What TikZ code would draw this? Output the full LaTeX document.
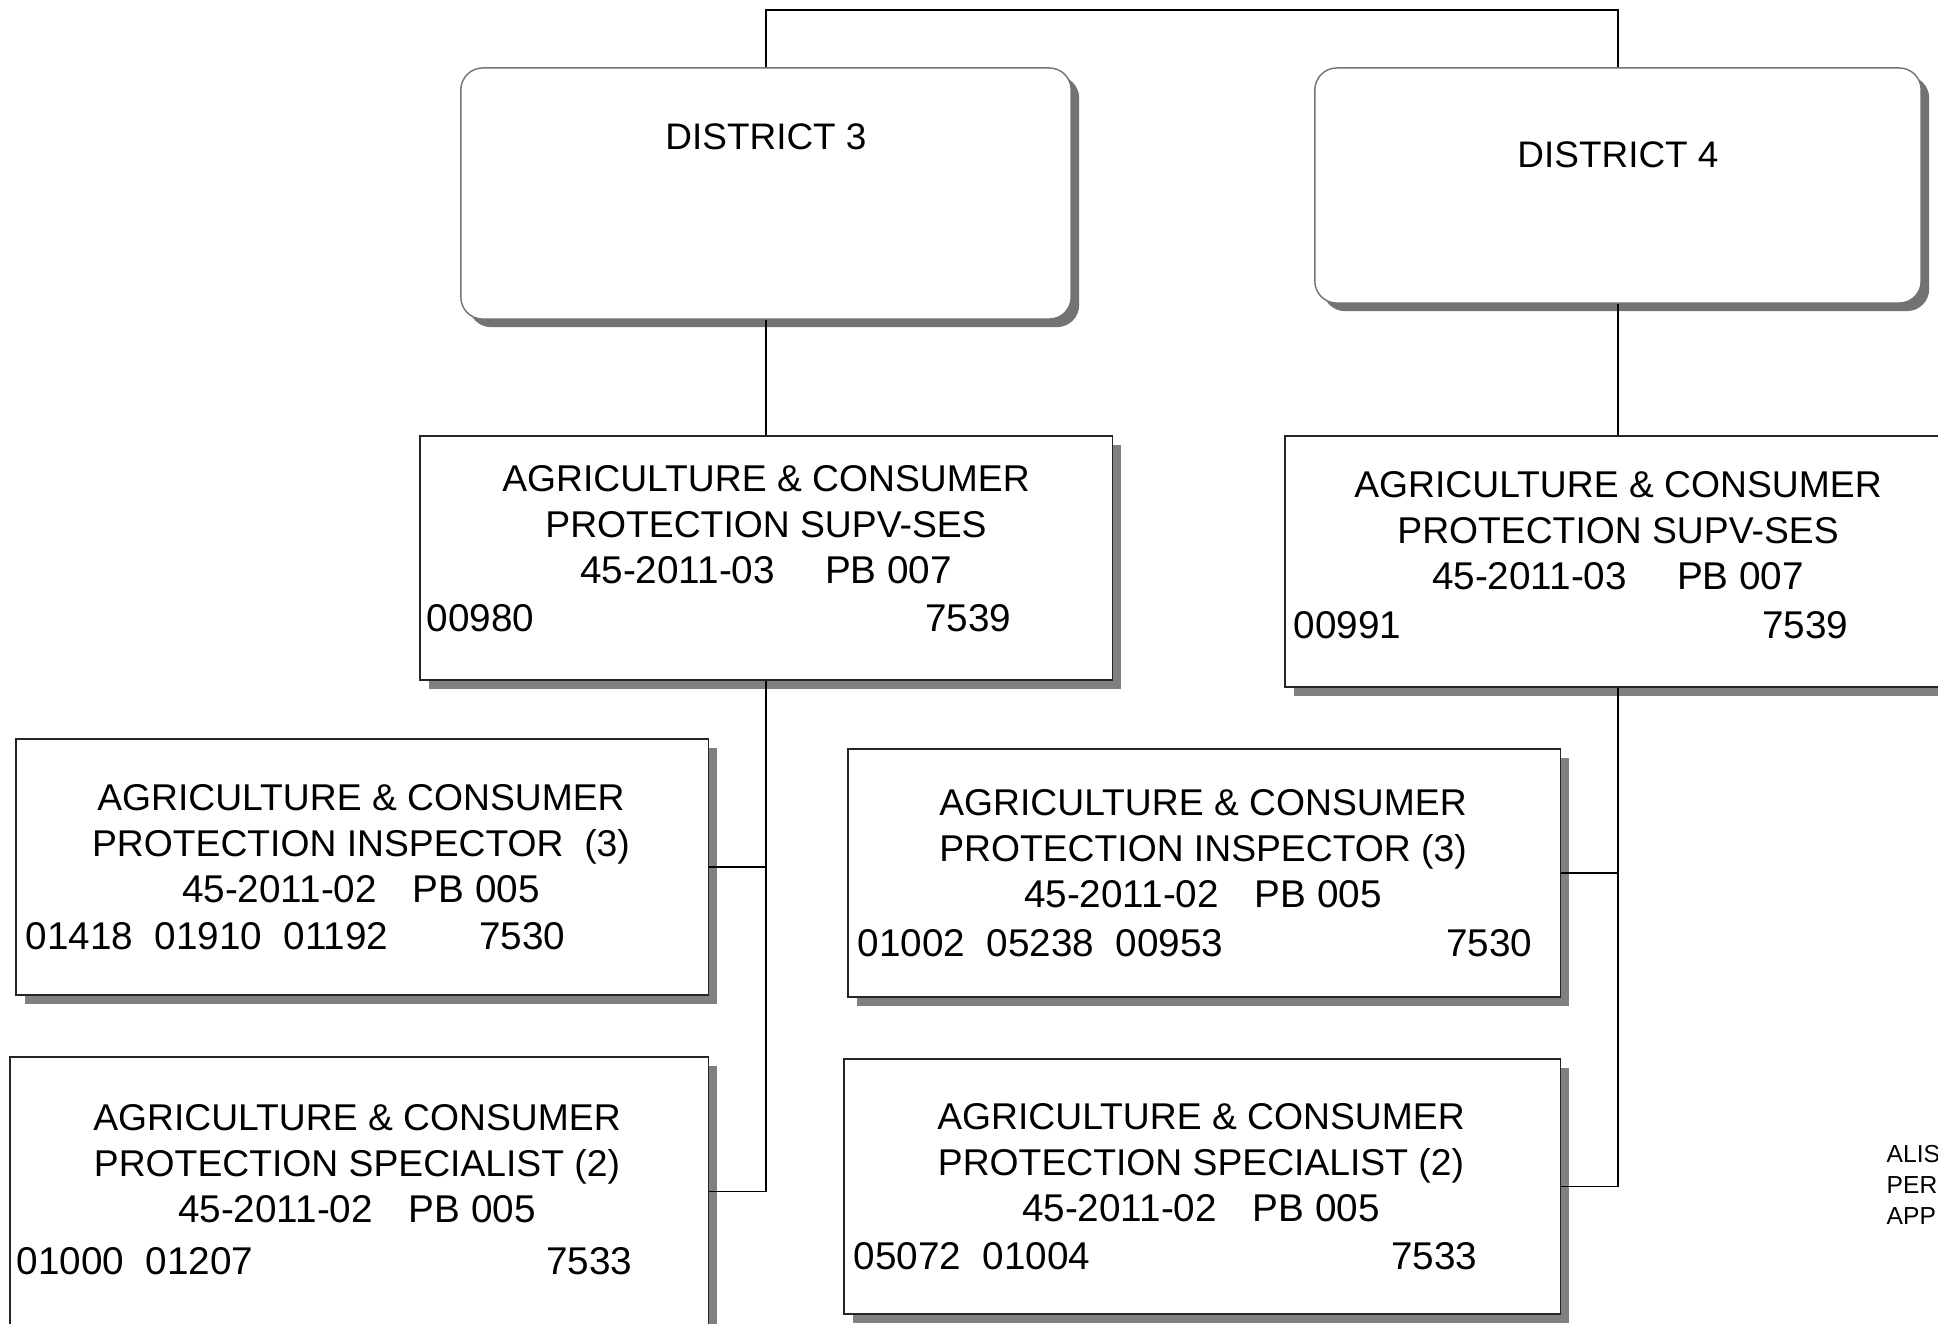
\documentclass[tikz,border=0pt]{standalone}
\usepackage{fontspec}
\setmainfont{Liberation Sans}
\usetikzlibrary{shadows}

\newcommand{\gradefont}{\fontsize{11pt}{13.1pt}\selectfont}

\begin{document}
\begin{tikzpicture}[
    x=0.01cm, y=-0.01cm,
    district/.style={rectangle, draw=black!55, fill=white, rounded corners=0.22cm, line width=0.4pt,
        drop shadow={shadow xshift=0.08cm, shadow yshift=-0.08cm, fill=black!55, opacity=1}},
    jobbox/.style={rectangle, draw=black!85, fill=white, line width=0.4pt,
        drop shadow={shadow xshift=0.09cm, shadow yshift=-0.09cm, fill=black!50, opacity=1}},
    title/.style={font=\fontsize{10.5pt}{13.1pt}\selectfont, inner sep=0pt},
    jobtext/.style={font=\fontsize{10.6pt}{13.1pt}\selectfont, align=center, inner sep=0pt},
    numbers/.style={font=\gradefont, inner sep=0pt},
    note/.style={font=\fontsize{7pt}{8.8pt}\selectfont, align=left, inner sep=0pt, anchor=north west},
    link/.style={draw=black, line width=0.45pt}
]
\useasboundingbox (0,0) rectangle (1938,1323);
\clip (0,0) rectangle (1938,1323);

% District boxes
\node[district, minimum width=6.10cm, minimum height=2.51cm] (dist3) at (766,193.5) {};
\node[district, minimum width=6.06cm, minimum height=2.35cm] (dist4) at (1618,185.5) {};
\node[title] (dist3-name) at (766,137) {DISTRICT 3};
\node[title] (dist4-name) at (1618,155) {DISTRICT 4};

% Supervisors
\node[jobbox, minimum width=6.92cm, minimum height=2.44cm] (supv3) at (766,558) {};
\node[jobbox, minimum width=6.66cm, minimum height=2.51cm] (supv4) at (1618,561.5) {};
\node[jobtext] (supv3-title) at (766,525) {AGRICULTURE \& CONSUMER\\PROTECTION SUPV-SES\\\gradefont 45-2011-03\hspace{0.50cm}PB 007};
\node[numbers, anchor=base west] (supv3-pos) at (426,631) {00980};
\node[numbers, anchor=base east] (supv3-cls) at (1012,631) {7539};
\node[jobtext] (supv4-title) at (1618,531) {AGRICULTURE \& CONSUMER\\PROTECTION SUPV-SES\\\gradefont 45-2011-03\hspace{0.50cm}PB 007};
\node[numbers, anchor=base west] (supv4-pos) at (1293,638) {00991};
\node[numbers, anchor=base east] (supv4-cls) at (1849,638) {7539};

% Inspectors
\node[jobbox, minimum width=6.92cm, minimum height=2.56cm] (insp3) at (362,867) {};
\node[jobbox, minimum width=7.12cm, minimum height=2.48cm] (insp4) at (1204,873) {};
\node[jobtext] (insp3-title) at (361,844) {AGRICULTURE \& CONSUMER\\PROTECTION INSPECTOR~~(3)\\\gradefont 45-2011-02\hspace{0.36cm}PB 005};
\node[numbers, anchor=base west] (insp3-pos) at (25,949) {01418~~01910~~01192};
\node[numbers, anchor=base east] (insp3-cls) at (566,949) {7530};
\node[jobtext] (insp4-title) at (1203,849) {AGRICULTURE \& CONSUMER\\PROTECTION INSPECTOR (3)\\\gradefont 45-2011-02\hspace{0.36cm}PB 005};
\node[numbers, anchor=base west] (insp4-pos) at (857,956) {01002~~05238~~00953};
\node[numbers, anchor=base east] (insp4-cls) at (1533,956) {7530};

% Specialists
\node[jobbox, minimum width=6.98cm, minimum height=2.69cm] (spec3) at (359,1191.5) {};
\node[jobbox, minimum width=7.16cm, minimum height=2.55cm] (spec4) at (1202,1186.5) {};
\node[jobtext] (spec3-title) at (357,1164) {AGRICULTURE \& CONSUMER\\PROTECTION SPECIALIST (2)\\\gradefont 45-2011-02\hspace{0.36cm}PB 005};
\node[numbers, anchor=base west] (spec3-pos) at (16,1274) {01000~~01207};
\node[numbers, anchor=base east] (spec3-cls) at (633,1274) {7533};
\node[jobtext] (spec4-title) at (1201,1163) {AGRICULTURE \& CONSUMER\\PROTECTION SPECIALIST (2)\\\gradefont 45-2011-02\hspace{0.36cm}PB 005};
\node[numbers, anchor=base west] (spec4-pos) at (853,1269) {05072~~01004};
\node[numbers, anchor=base east] (spec4-cls) at (1478,1269) {7533};

\node[note] (sidenote) at (1886,1145) {ALIS\\PER\\APP};

% Connectors
\coordinate (topbar) at (1192,10);
\draw[link] (dist3.north) |- (topbar) -| (dist4.north);
\draw[link] (dist3) -- (supv3);
\draw[link] (dist4) -- (supv4);
\draw[link] (supv3.south) |- (insp3.east);
\draw[link] (supv3.south) |- (spec3.east);
\draw[link] (supv4.south) |- (insp4.east);
\draw[link] (supv4.south) |- (spec4.east);

\end{tikzpicture}
\end{document}
